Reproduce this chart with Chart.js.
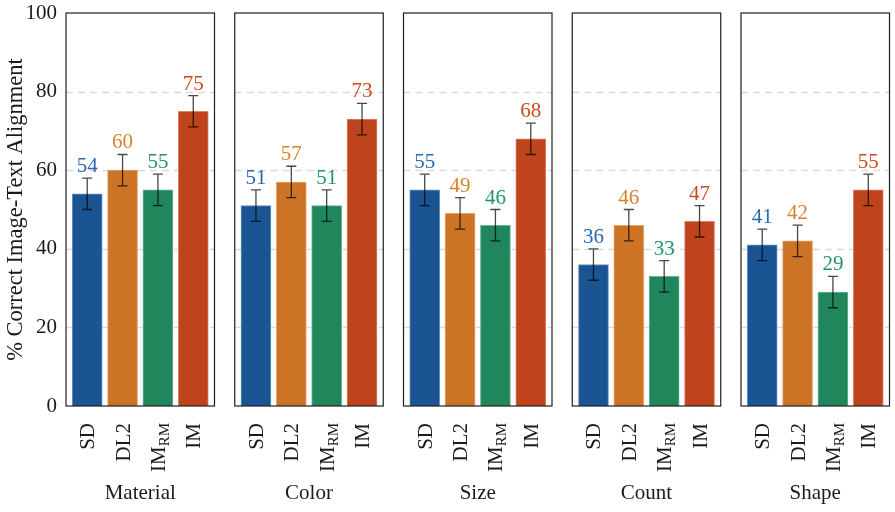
<!DOCTYPE html>
<html>
<head>
<meta charset="utf-8">
<script src="https://cdn.jsdelivr.net/npm/chart.js@4.4.0/dist/chart.umd.min.js"></script>
<style>
  html, body { margin: 0; padding: 0; background: #fff; }
  #wrap { position: relative; width: 895px; height: 512px; }
  #wrap canvas { position: absolute; left: 0; top: 0; width: 895px; height: 512px; }
</style>
</head>
<body>
<div id="wrap"></div>
<script>
// data
const methods = ['SD', 'DL2', 'IM_RM', 'IM'];
const panels = ['Material', 'Color', 'Size', 'Count', 'Shape'];
const sdVals = [54, 51, 55, 36, 41];
const dl2Vals = [60, 57, 49, 46, 42];
const imrmVals = [55, 51, 46, 33, 29];
const imVals = [75, 73, 68, 47, 55];
const sdErr = [4, 4, 4, 4, 4];
const dl2Err = [4, 4, 4, 4, 4];
const imrmErr = [4, 4, 4, 4, 4];
const imErr = [4, 4, 4, 4, 4];
const yTicks = [0, 20, 40, 60, 80, 100];

// styles
const barColors = ['#1a5493', '#cc7326', '#1f875b', '#bf431d'];
const edgeColors = ['#6c92bf', '#e2a670', '#6db293', '#d8856a'];
const textColors = ['#2c68ad', '#d6832f', '#22936a', '#c94b24'];
const FONT = '"Liberation Serif", "DejaVu Serif", serif';

Chart.defaults.font.family = FONT;
Chart.defaults.font.size = 21;
Chart.defaults.color = '#1a1a1a';

const PANEL_W = 148.5;
const PANEL_STEP = 168.75;
const FIRST_LEFT = 66;

function drawMethodLabel(ctx, name, px, topY) {
  const parts = name.split('_');
  ctx.save();
  ctx.translate(px + 7, topY);
  ctx.rotate(-Math.PI / 2);
  ctx.fillStyle = '#1a1a1a';
  ctx.textBaseline = 'alphabetic';
  ctx.textAlign = 'left';
  ctx.font = '21px ' + FONT;
  const w1 = ctx.measureText(parts[0]).width;
  let w2 = 0;
  if (parts[1]) {
    ctx.font = '15px ' + FONT;
    w2 = ctx.measureText(parts[1]).width;
  }
  const start = -(w1 + w2);
  ctx.font = '21px ' + FONT;
  ctx.fillText(parts[0], start, 0);
  if (parts[1]) {
    ctx.font = '15px ' + FONT;
    ctx.fillText(parts[1], start + w1, 4);
  }
  ctx.restore();
}

const panelDeco = {
  id: 'panelDeco',
  beforeDatasetsDraw(chart) {
    const { ctx, chartArea: a } = chart;
    const y = chart.scales.y;
    ctx.save();
    ctx.strokeStyle = '#dadada';
    ctx.lineWidth = 1.4;
    ctx.setLineDash([7, 5]);
    yTicks.forEach(t => {
      if (t <= yTicks[0] || t >= yTicks[yTicks.length - 1]) return;
      const py = Math.round(y.getPixelForValue(t)) + 0.5;
      ctx.beginPath();
      ctx.moveTo(a.left, py);
      ctx.lineTo(a.right, py);
      ctx.stroke();
    });
    ctx.restore();
  },
  afterDatasetsDraw(chart, args, opts) {
    const { ctx, chartArea: a } = chart;
    const y = chart.scales.y;
    const meta = chart.getDatasetMeta(0);
    const vals = chart.data.datasets[0].data;
    const errs = opts.errors;

    // error bars + value labels
    meta.data.forEach((bar, j) => {
      const v = vals[j].y;
      const hi = y.getPixelForValue(v + errs[j]);
      const lo = y.getPixelForValue(v - errs[j]);
      ctx.save();
      ctx.strokeStyle = 'rgba(0,0,0,0.72)';
      ctx.lineWidth = 1.3;
      ctx.beginPath();
      ctx.moveTo(bar.x, hi); ctx.lineTo(bar.x, lo);
      ctx.moveTo(bar.x - 5, hi); ctx.lineTo(bar.x + 5, hi);
      ctx.moveTo(bar.x - 5, lo); ctx.lineTo(bar.x + 5, lo);
      ctx.stroke();
      ctx.fillStyle = textColors[j];
      ctx.font = '21px ' + FONT;
      ctx.textAlign = 'center';
      ctx.textBaseline = 'alphabetic';
      ctx.fillText(String(v), bar.x, hi - 6);
      ctx.restore();
    });

    // panel frame
    ctx.save();
    ctx.strokeStyle = '#1e1e1e';
    ctx.lineWidth = 1.2;
    ctx.strokeRect(a.left, a.top, a.right - a.left, a.bottom - a.top);
    ctx.restore();
  },
  afterDraw(chart) {
    const { ctx, chartArea: a } = chart;
    const x = chart.scales.x;
    methods.forEach((m, j) => drawMethodLabel(ctx, m, x.getPixelForValue(j), a.bottom + 17));
  }
};

panels.forEach((name, i) => {
  const canvas = document.createElement('canvas');
  canvas.width = 895;
  canvas.height = 512;
  document.getElementById('wrap').appendChild(canvas);

  const values = [sdVals[i], dl2Vals[i], imrmVals[i], imVals[i]];
  const errors = [sdErr[i], dl2Err[i], imrmErr[i], imErr[i]];
  const left = FIRST_LEFT + i * PANEL_STEP;
  const right = left + PANEL_W;

  new Chart(canvas, {
    type: 'bar',
    data: {
      datasets: [{
        data: values.map((v, j) => ({ x: j, y: v })),
        backgroundColor: barColors,
        borderColor: edgeColors,
        borderWidth: 1,
        barThickness: 30
      }]
    },
    options: {
      responsive: false,
      animation: false,
      events: [],
      layout: {
        padding: { left: i === 0 ? 0 : left, right: 895 - right, top: 13, bottom: 0 }
      },
      plugins: {
        legend: { display: false },
        tooltip: { enabled: false },
        panelDeco: { errors: errors }
      },
      scales: {
        x: {
          type: 'linear',
          min: -0.6,
          max: 3.6,
          offset: false,
          grid: { display: false, drawTicks: false, offset: false },
          border: { display: false },
          ticks: { display: false },
          title: {
            display: true,
            text: name,
            font: { size: 21 },
            color: '#1a1a1a',
            padding: { top: 0, bottom: 6 }
          },
          afterFit(scale) { scale.height = 106; }
        },
        y: {
          display: i === 0,
          min: 0,
          max: 100,
          grid: { display: false, drawTicks: false },
          border: { display: false },
          afterBuildTicks(scale) { scale.ticks = yTicks.map(v => ({ value: v })); },
          ticks: { padding: 9, font: { size: 21 }, color: '#1a1a1a' },
          title: {
            display: true,
            text: '% Correct Image-Text Alignment',
            font: { size: 22.5 },
            color: '#1a1a1a',
            padding: { top: 3, bottom: 0 }
          },
          afterFit(scale) {
            if (i !== 0) return;
            scale.width = FIRST_LEFT;
            scale.paddingTop = 0;
            scale.paddingBottom = 0;
          }
        }
      }
    },
    plugins: [panelDeco]
  });
});
</script>
</body>
</html>
